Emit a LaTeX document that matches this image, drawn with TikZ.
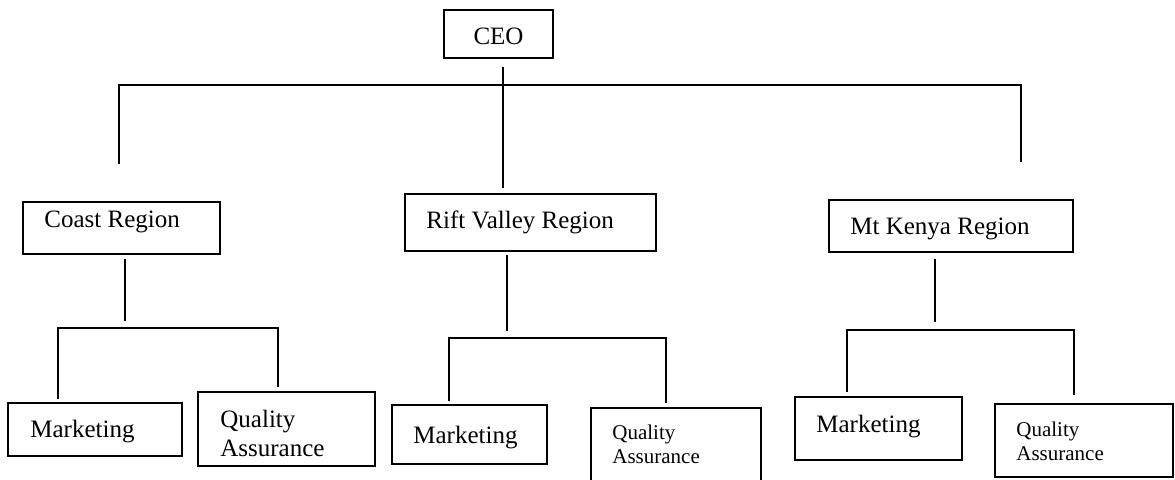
\documentclass[tikz,border=0pt]{standalone}
\usepackage{fontspec}
\setmainfont{Liberation Serif}
\begin{document}
\begin{tikzpicture}[x=0.5pt,y=-0.5pt]
	\tikzset{
		box/.style 2 args={draw, line width=1pt, anchor=north west, inner sep=0pt, outer sep=0pt, minimum width=#1, minimum height=#2},
		lbl/.style={anchor=base west, inner sep=0pt, align=left, font=\fontsize{12.5}{14.25}\selectfont},
		qasmall/.style={font=\fontsize{10.5}{11.85}\selectfont},
		link/.style={line width=1pt},
	}
	\useasboundingbox (0,0) rectangle (1175,479);
	% boxes
	\node[box={54.5pt}{24pt}] (ceo) at (444,10) {};
	\node[box={98.5pt}{26pt}] (coast) at (23,202) {};
	\node[box={125.5pt}{28.5pt}] (rift) at (405,194) {};
	\node[box={122pt}{26pt}] (kenya) at (829,200) {};
	\node[box={87pt}{26.5pt}] (coast-mkt) at (8,403) {};
	\node[box={88.5pt}{37pt}] (coast-qa) at (198,392) {};
	\node[box={77.5pt}{29.5pt}] (rift-mkt) at (392,405) {};
	\node[box={85pt}{45pt}] (rift-qa) at (591,408) {};
	\node[box={83.5pt}{31.5pt}] (kenya-mkt) at (795,397) {};
	\node[box={89pt}{36.5pt}] (kenya-qa) at (995,404) {};
	% texts (two-line labels sit on their last line)
	\node[lbl, anchor=base] (ceo-t) at ([shift={(54.5,34)}]ceo.north west) {CEO};
	\node[lbl] (coast-t) at ([shift={(21,25)}]coast.north west) {Coast Region};
	\node[lbl] (rift-t) at ([shift={(21,34)}]rift.north west) {Rift Valley Region};
	\node[lbl] (kenya-t) at ([shift={(21,34)}]kenya.north west) {Mt Kenya Region};
	\node[lbl] (coast-mkt-t) at ([shift={(22,34)}]coast-mkt.north west) {Marketing};
	\node[lbl] (coast-qa-t) at ([shift={(22,64)}]coast-qa.north west) {Quality\\Assurance};
	\node[lbl] (rift-mkt-t) at ([shift={(21,38)}]rift-mkt.north west) {Marketing};
	\node[lbl, qasmall] (rift-qa-t) at ([shift={(21,55)}]rift-qa.north west) {Quality\\Assurance};
	\node[lbl] (kenya-mkt-t) at ([shift={(21,35)}]kenya-mkt.north west) {Marketing};
	\node[lbl, qasmall] (kenya-qa-t) at ([shift={(21,56)}]kenya-qa.north west) {Quality\\Assurance};
	% connector ends
	\coordinate (ceo-out) at (503,67);
	\coordinate (rift-in) at (503,188);
	\coordinate (coast-in) at (119,164);
	\coordinate (top-bus) at (1021,85);
	\coordinate (kenya-in) at (1021,162);
	\coordinate (coast-out) at (125,259);
	\coordinate (coast-drop) at (125,321);
	\coordinate (coast-mkt-in) at (58,399);
	\coordinate (coast-bus) at (278,328);
	\coordinate (coast-qa-in) at (278,387);
	\coordinate (rift-out) at (507,255);
	\coordinate (rift-drop) at (507,331);
	\coordinate (rift-mkt-in) at (449,401);
	\coordinate (rift-bus) at (666,338);
	\coordinate (rift-qa-in) at (666,403);
	\coordinate (kenya-out) at (935,259);
	\coordinate (kenya-drop) at (935,322);
	\coordinate (kenya-mkt-in) at (847,392);
	\coordinate (kenya-bus) at (1074,330);
	\coordinate (kenya-qa-in) at (1074,395);
	% connectors
	\draw[link] (ceo-out) -- (rift-in);
	\draw[link] (coast-in) |- (top-bus) -- (kenya-in);
	\draw[link] (coast-out) -- (coast-drop);
	\draw[link] (coast-mkt-in) |- (coast-bus) -- (coast-qa-in);
	\draw[link] (rift-out) -- (rift-drop);
	\draw[link] (rift-mkt-in) |- (rift-bus) -- (rift-qa-in);
	\draw[link] (kenya-out) -- (kenya-drop);
	\draw[link] (kenya-mkt-in) |- (kenya-bus) -- (kenya-qa-in);
\end{tikzpicture}
\end{document}
